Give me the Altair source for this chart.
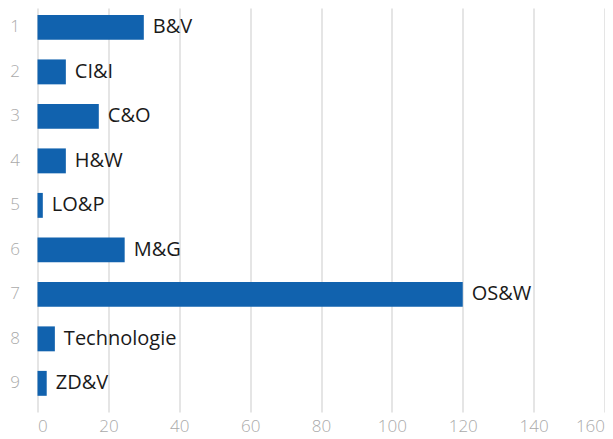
import altair as alt
import pandas as pd

ranks = ["1", "2", "3", "4", "5", "6", "7", "8", "9"]
names = ["B&V", "CI&I", "C&O", "H&W", "LO&P", "M&G", "OS&W", "Technologie", "ZD&V"]
values = [30, 8, 17.3, 8, 1.5, 24.6, 120, 4.9, 2.6]

df = pd.DataFrame({"rank": ranks, "name": names, "value": values})

y = alt.Y("rank:N", sort=ranks, title=None,
          scale=alt.Scale(paddingInner=0.44, paddingOuter=0.26, align=0.3),
          axis=alt.Axis(domain=False, ticks=False, grid=False, labelPadding=18,
                        labelFontSize=17, labelColor="#aaaaaa", labelFont="Open Sans",
                        labelFontWeight=300))
x = alt.X("value:Q", title=None,
          scale=alt.Scale(domain=[0, 160], nice=False),
          axis=alt.Axis(values=[0, 20, 40, 60, 80, 100, 120, 140, 160], domain=False,
                        ticks=False, grid=True, gridColor="#dddddd", gridWidth=1.5,
                        labelPadding=6, labelFontSize=17, labelColor="#aaaaaa",
                        labelFont="Open Sans", labelFontWeight=300))

bars = alt.Chart(df).mark_bar(color="#1162ae").encode(x=x, y=y)
text = alt.Chart(df).mark_text(align="left", dx=9, fontSize=20, color="#1a1a1a",
                               font="Open Sans").encode(
    x="value:Q", y=alt.Y("rank:N", sort=ranks), text="name:N")

chart = (bars + text).properties(
    width=567, height=404,
    padding={"left": 29.5, "top": 0, "right": 0.5, "bottom": 25},
    autosize=alt.AutoSizeParams(type="none"),
).configure_view(stroke=None)

chart.save("out.html", embed_options={"renderer": "svg", "actions": False})
